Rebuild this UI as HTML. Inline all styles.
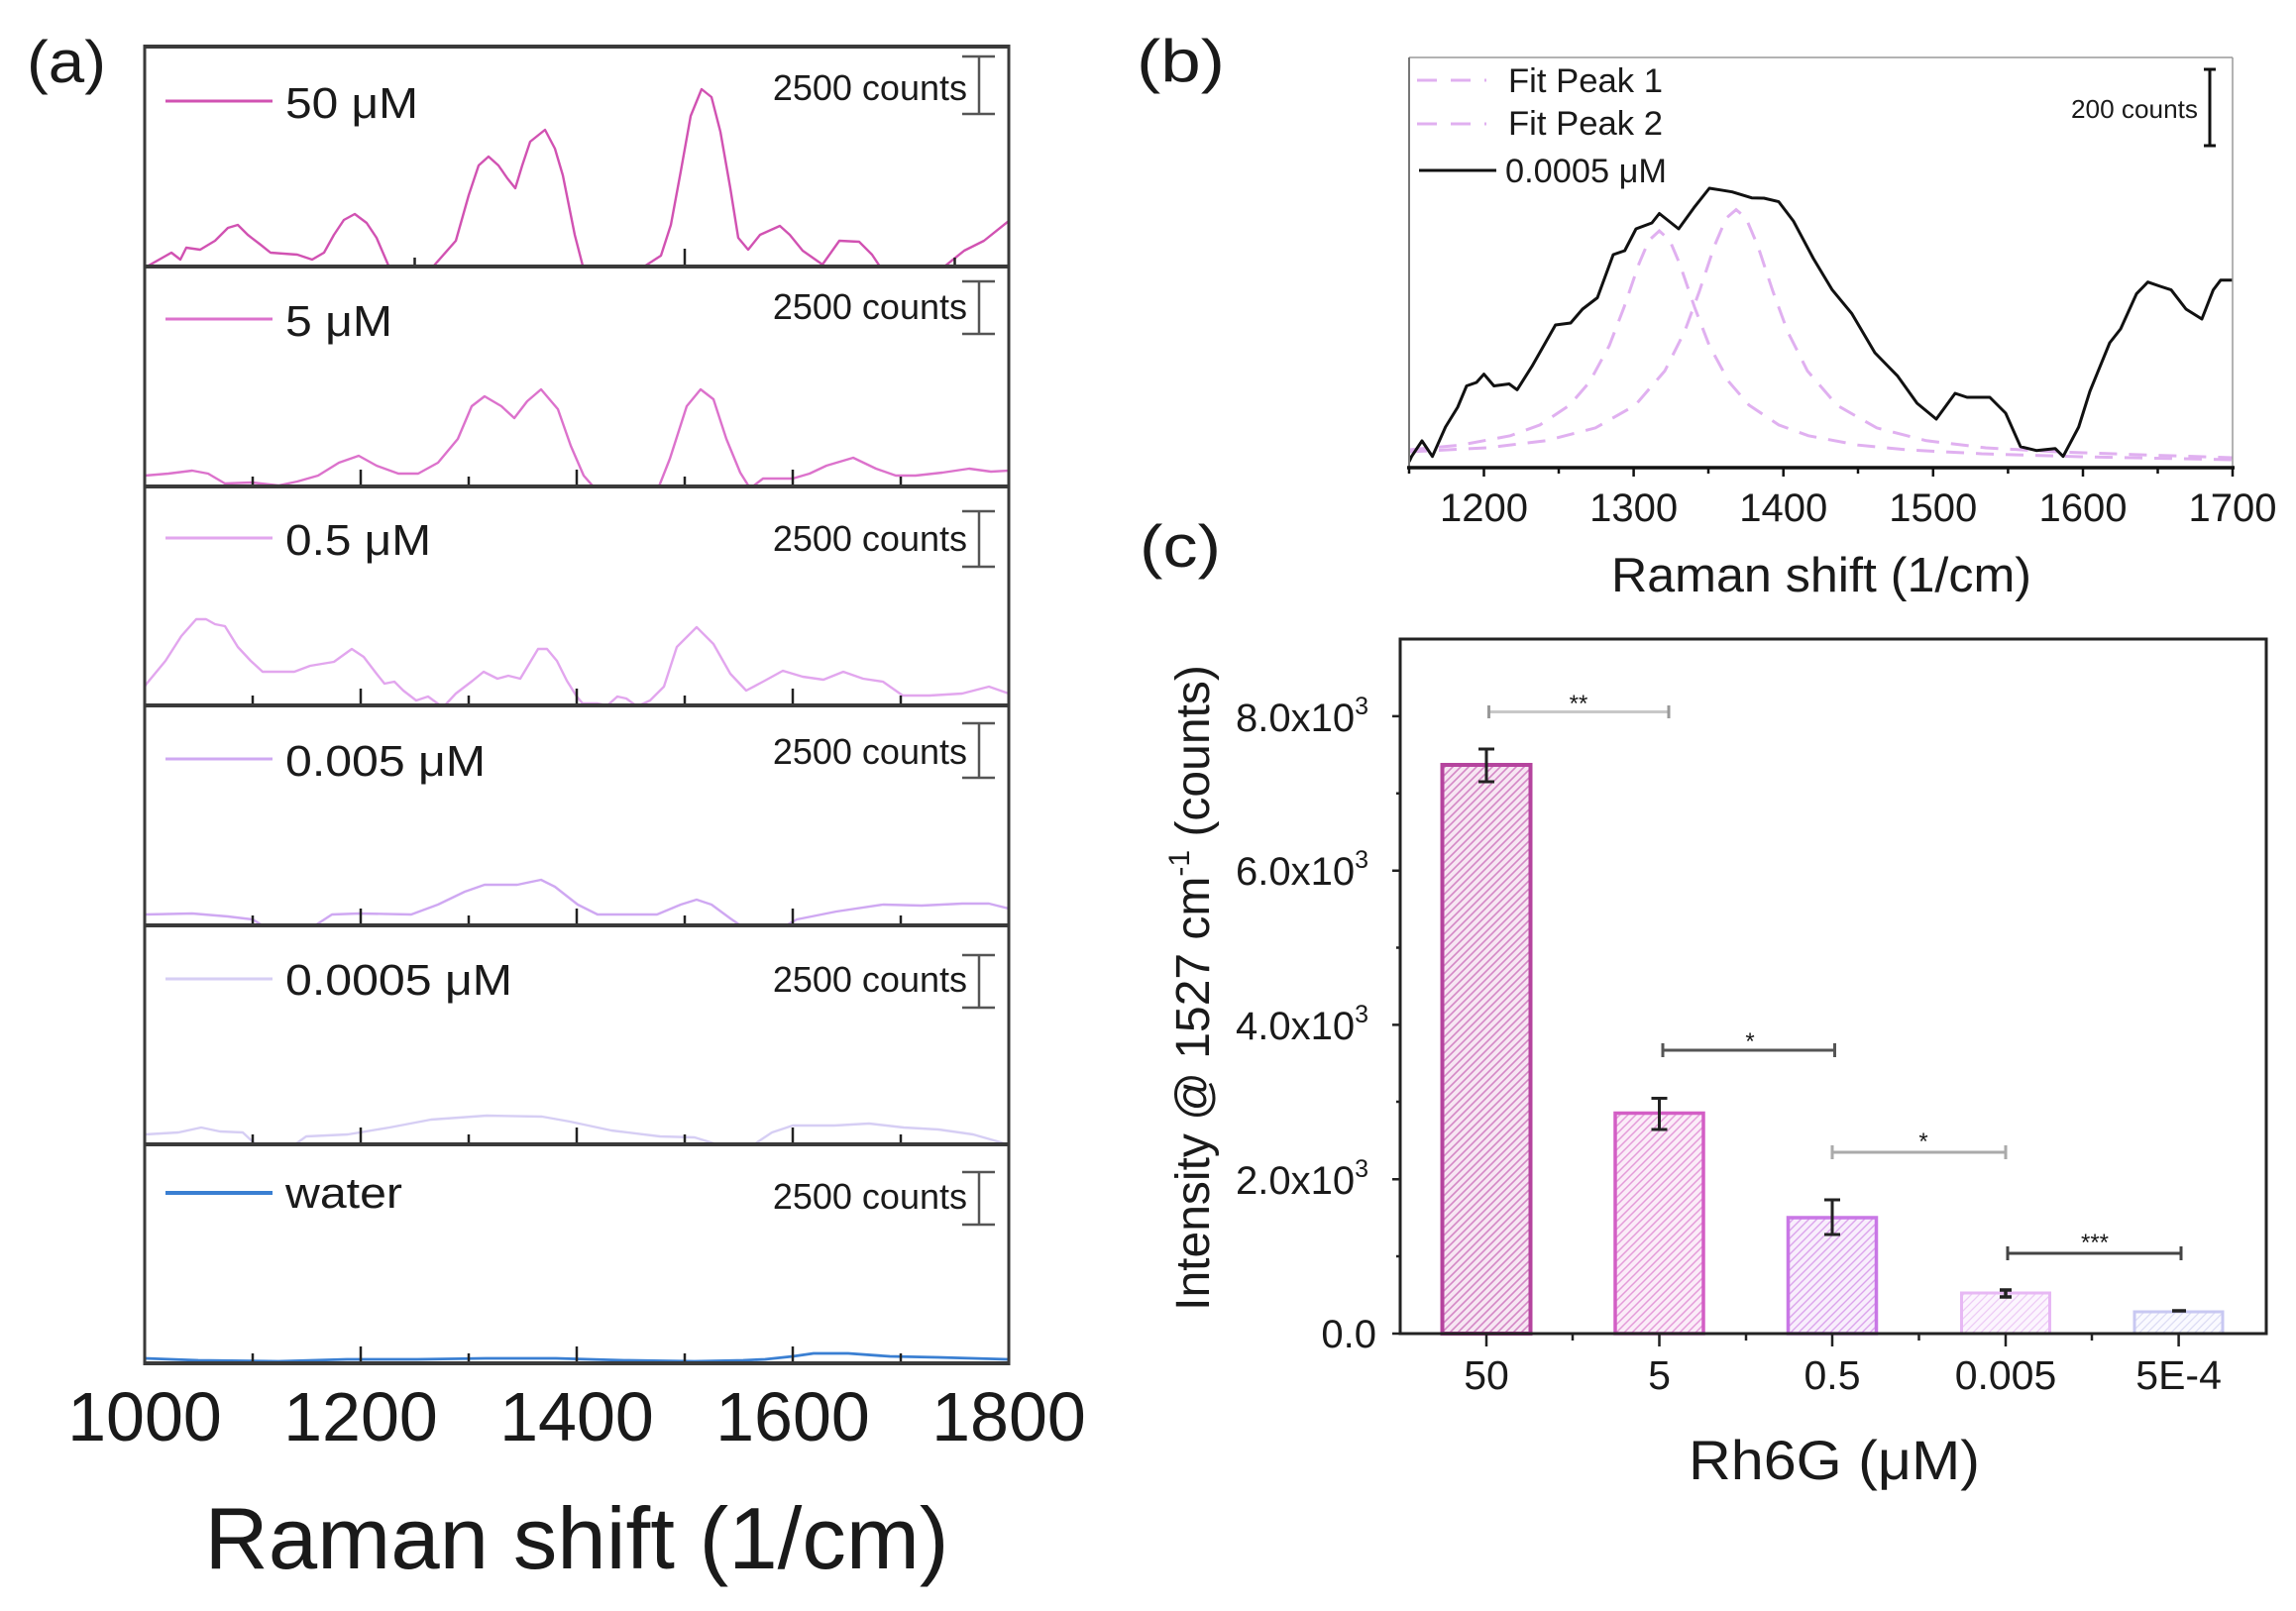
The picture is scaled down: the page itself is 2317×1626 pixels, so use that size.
<!DOCTYPE html>
<html><head><meta charset="utf-8"><style>
html,body{margin:0;padding:0;background:#fff;}
svg{display:block;}
text{font-family:"Liberation Sans",Arial,sans-serif;fill:#1a1a1a;}
</style></head><body>
<svg xmlns="http://www.w3.org/2000/svg" width="2317" height="1626" viewBox="0 0 2317 1626">
<defs>
<clipPath id="c1"><rect x="146" y="47" width="872" height="222"/></clipPath>
<clipPath id="c2"><rect x="146" y="269" width="872" height="222"/></clipPath>
<clipPath id="c3"><rect x="146" y="491" width="872" height="221"/></clipPath>
<clipPath id="c4"><rect x="146" y="712" width="872" height="222"/></clipPath>
<clipPath id="c5"><rect x="146" y="934" width="872" height="221"/></clipPath>
<clipPath id="c6"><rect x="146" y="1155" width="872" height="221"/></clipPath>
<clipPath id="cb"><rect x="1422" y="58" width="831" height="414"/></clipPath>
<pattern id="h1" patternUnits="userSpaceOnUse" width="8" height="8"><rect width="8" height="8" fill="#f7e6f3"/><path d="M-1,1 l2,-2 M0,8 l8,-8 M7,9 l2,-2" stroke="#d487c6" stroke-width="1.6"/></pattern>
<pattern id="h2" patternUnits="userSpaceOnUse" width="8" height="8"><rect width="8" height="8" fill="#fbecf8"/><path d="M-1,1 l2,-2 M0,8 l8,-8 M7,9 l2,-2" stroke="#e49bd9" stroke-width="1.5"/></pattern>
<pattern id="h3" patternUnits="userSpaceOnUse" width="8" height="8"><rect width="8" height="8" fill="#f8eefc"/><path d="M-1,1 l2,-2 M0,8 l8,-8 M7,9 l2,-2" stroke="#dba4ec" stroke-width="1.4"/></pattern>
<pattern id="h4" patternUnits="userSpaceOnUse" width="8" height="8"><rect width="8" height="8" fill="#fcf5fe"/><path d="M-1,1 l2,-2 M0,8 l8,-8 M7,9 l2,-2" stroke="#edcbf6" stroke-width="1.3"/></pattern>
<pattern id="h5" patternUnits="userSpaceOnUse" width="8" height="8"><rect width="8" height="8" fill="#fafaff"/><path d="M-1,1 l2,-2 M0,8 l8,-8 M7,9 l2,-2" stroke="#dcdcf4" stroke-width="1.3"/></pattern>
</defs>
<rect width="2317" height="1626" fill="#fff"/>

<!-- ================= PANEL (a) ================= -->
<text x="27" y="83" font-size="60" textLength="80" lengthAdjust="spacingAndGlyphs" fill="#333">(a)</text>

<g fill="none" stroke-width="2.4" stroke-linejoin="round">
<polyline clip-path="url(#c1)" stroke="#d152b2" points="146,270 150,268 173,255 182,262 188,250 202,252 217,243 230,230 240,227 250,237 263,247 273,255 300,257 315,262 327,255 337,237 347,222 358,216 370,225 380,240 392,268 400,280 430,280 438,268 460,243 473,197 483,167 493,158 503,167 512,180 520,190 527,167 535,143 550,131 560,150 568,177 580,237 588,268 595,280 640,280 650,269 667,258 677,227 687,173 697,117 708,90 718,98 727,133 737,190 745,240 755,252 767,237 787,228 797,237 810,253 830,267 847,243 867,244 880,257 888,269 895,280 945,280 953,269 973,253 993,243 1018,223"/>
<polyline clip-path="url(#c2)" stroke="#dc72cc" points="146,480 170,478 194,475 210,478 227,488 254,487 281,490 300,486 321,480 342,467 362,460 380,470 402,478 422,478 442,467 462,443 476,410 489,400 506,410 519,422 532,405 546,393 563,413 576,450 589,480 603,496 663,496 676,463 693,410 707,393 720,403 733,443 747,477 757,493 770,483 800,483 817,478 834,470 861,462 884,473 904,480 924,480 951,477 978,473 1000,476 1018,475"/>
<polyline clip-path="url(#c3)" stroke="#e2a6ee" points="146,693 148,690 167,667 183,642 198,625 208,625 217,630 227,632 240,653 253,667 265,678 297,678 313,672 337,668 355,655 367,663 380,680 388,690 398,688 407,697 420,707 432,703 447,714 460,700 477,687 488,678 502,685 513,682 525,685 543,655 552,655 562,667 572,687 582,703 588,710 603,710 613,712 623,703 632,705 643,713 656,707 670,693 683,653 703,633 720,650 737,680 753,697 770,688 790,677 810,683 831,686 851,678 871,685 891,688 911,702 938,702 971,700 998,693 1018,700"/>
<polyline clip-path="url(#c4)" stroke="#cfa8f2" points="146,923 194,922 230,925 255,928 268,936 315,936 335,923 362,922 415,923 442,913 469,900 489,893 522,893 546,888 560,895 583,913 603,923 663,923 687,913 703,908 718,913 737,927 750,936 790,936 804,928 844,920 891,913 930,914 971,912 998,912 1018,917"/>
<polyline clip-path="url(#c5)" stroke="#d6cef4" points="146,1145 180,1143 203,1138 222,1142 245,1143 260,1157 295,1157 309,1147 351,1145 393,1138 435,1130 491,1126 547,1127 575,1132 617,1141 666,1147 701,1148 730,1157 758,1157 779,1143 800,1136 842,1136 877,1134 912,1138 947,1140 982,1145 1010,1153 1018,1156"/>
<polyline clip-path="url(#c6)" stroke="#3a7fd2" stroke-width="2.8" points="146,1371 200,1373 281,1374 350,1372 421,1372 490,1371 561,1371 630,1373 701,1374 750,1373 772,1372 800,1369 821,1366 856,1366 898,1369 947,1370 1018,1372"/>
</g>

<!-- frame & separators -->
<g stroke="#3a3a3a" fill="none">
<line x1="146" y1="47" x2="1018" y2="47" stroke-width="4"/>
<line x1="146" y1="45" x2="146" y2="1378" stroke-width="3"/>
<line x1="1018" y1="45" x2="1018" y2="1378" stroke-width="3"/>
<line x1="146" y1="269" x2="1018" y2="269" stroke-width="4"/>
<line x1="146" y1="491" x2="1018" y2="491" stroke-width="4"/>
<line x1="146" y1="712" x2="1018" y2="712" stroke-width="4"/>
<line x1="146" y1="934" x2="1018" y2="934" stroke-width="4"/>
<line x1="146" y1="1155" x2="1018" y2="1155" stroke-width="4"/>
<line x1="146" y1="1376" x2="1018" y2="1376" stroke-width="4"/>
</g>
<!-- ticks -->
<g stroke="#222" stroke-width="2.5">
<line x1="418.5" y1="267" x2="418.5" y2="260"/><line x1="691" y1="267" x2="691" y2="251"/><line x1="963.5" y1="267" x2="963.5" y2="260"/>
<path d="M255,489v-8 M364,489v-15 M473,489v-8 M582,489v-15 M691,489v-8 M800,489v-15 M909,489v-8"/>
<path d="M255,710v-8 M364,710v-15 M473,710v-8 M582,710v-15 M691,710v-8 M800,710v-15 M909,710v-8"/>
<path d="M255,932v-8 M364,932v-15 M473,932v-8 M582,932v-15 M691,932v-8 M800,932v-15 M909,932v-8"/>
<path d="M255,1153v-8 M364,1153v-15 M473,1153v-8 M582,1153v-15 M691,1153v-8 M800,1153v-15 M909,1153v-8"/>
<path d="M255,1374v-8 M364,1374v-15 M473,1374v-8 M582,1374v-15 M691,1374v-8 M800,1374v-15 M909,1374v-8"/>
</g>

<!-- legends -->
<g stroke-width="3">
<line x1="167" y1="102" x2="275" y2="102" stroke="#d152b2"/>
<line x1="167" y1="322" x2="275" y2="322" stroke="#dc72cc"/>
<line x1="167" y1="543" x2="275" y2="543" stroke="#e2a6ee"/>
<line x1="167" y1="766" x2="275" y2="766" stroke="#cfa8f2"/>
<line x1="167" y1="988" x2="275" y2="988" stroke="#d6cef4"/>
<line x1="167" y1="1204" x2="275" y2="1204" stroke="#3a7fd2" stroke-width="4"/>
</g>
<g font-size="44">
<text x="288" y="119" textLength="134" lengthAdjust="spacingAndGlyphs">50 μM</text>
<text x="288" y="339" textLength="108" lengthAdjust="spacingAndGlyphs">5 μM</text>
<text x="288" y="560" textLength="147" lengthAdjust="spacingAndGlyphs">0.5 μM</text>
<text x="288" y="783" textLength="202" lengthAdjust="spacingAndGlyphs">0.005 μM</text>
<text x="288" y="1004" textLength="229" lengthAdjust="spacingAndGlyphs">0.0005 μM</text>
<text x="288" y="1219" textLength="118" lengthAdjust="spacingAndGlyphs">water</text>
</g>
<!-- scale bars -->
<g font-size="36" text-anchor="end">
<text x="976" y="101">2500 counts</text>
<text x="976" y="322">2500 counts</text>
<text x="976" y="556">2500 counts</text>
<text x="976" y="771">2500 counts</text>
<text x="976" y="1001">2500 counts</text>
<text x="976" y="1220">2500 counts</text>
</g>
<g stroke="#555" stroke-width="2.5" fill="none">
<path d="M971,57h33 M988,57v58 M971,115h33"/>
<path d="M971,284h33 M988,284v53 M971,337h33"/>
<path d="M971,516h33 M988,516v56 M971,572h33"/>
<path d="M971,730h33 M988,730v55 M971,785h33"/>
<path d="M971,964h33 M988,964v53 M971,1017h33"/>
<path d="M971,1183h33 M988,1183v53 M971,1236h33"/>
</g>
<!-- x ticks labels -->
<g font-size="70" text-anchor="middle">
<text x="146" y="1454">1000</text>
<text x="364" y="1454">1200</text>
<text x="582" y="1454">1400</text>
<text x="800" y="1454">1600</text>
<text x="1018" y="1454">1800</text>
</g>
<text x="582" y="1583" font-size="88" text-anchor="middle" textLength="751" lengthAdjust="spacingAndGlyphs">Raman shift (1/cm)</text>

<!-- ================= PANEL (b) ================= -->
<text x="1147" y="82" font-size="60" textLength="89" lengthAdjust="spacingAndGlyphs" fill="#333">(b)</text>
<g fill="none" clip-path="url(#cb)">
<polyline stroke="#e0b0f0" stroke-width="3" stroke-dasharray="18 12" points="1422,454 1474,449.2 1524,439.8 1554,428.9 1584,408.9 1604,385.7 1624,348.9 1639,309.9 1654,266.1 1664,242.6 1674.5,233 1685,242.6 1695,266.1 1710,309.9 1725,348.9 1745,385.7 1765,408.9 1795,428.9 1825,439.8 1875,449.2 1925,454 2000,458 2100,461 2253,464"/>
<polyline stroke="#e0b0f0" stroke-width="3" stroke-dasharray="18 12" points="1422,456 1500,452 1560,444.8 1610,431.9 1650,409.2 1680,374.4 1700,334.7 1715,293.8 1730,248.5 1742,220.2 1752,211.6 1762,220.2 1774,248.5 1789,293.8 1804,334.7 1824,374.4 1854,409.2 1894,431.9 1944,444.8 2004,452 2080,456.2 2160,459 2253,462"/>
<polyline stroke="#111" stroke-width="3" stroke-linejoin="round" points="1422,466 1424.5,460.7 1435,445 1445.5,460.7 1458.7,431 1471,411 1480,389.5 1490,386 1497.5,377.6 1507.6,389.5 1523,387.5 1531,393.4 1546,369.7 1569.7,328 1585,326 1597,312 1612,300.5 1628,257 1639.6,253 1651,231 1667,225 1674.5,215.5 1694,231 1709.5,209.6 1725,190 1736.6,191.8 1748,193.7 1767.7,199.7 1780,200 1795,203.6 1810,223.4 1830,261 1849,292.6 1868.6,316.3 1892,356 1915,379.6 1934.6,407 1954,423 1973,397 1985,401 2008,401 2024,417 2039,450.8 2055,454.7 2074,452.7 2082,460.7 2097.7,431 2109,395 2129,346 2140,332 2156,296.6 2167.5,284.7 2180,289 2191,292.6 2206,312 2222,322 2233.5,292.6 2241,282.7 2253,282.7"/>
</g>
<g fill="none">
<line x1="1422" y1="58" x2="2253" y2="58" stroke="#9a9a9a" stroke-width="1.5"/>
<line x1="1422" y1="58" x2="1422" y2="472" stroke="#777" stroke-width="2"/>
<line x1="2253" y1="58" x2="2253" y2="472" stroke="#9a9a9a" stroke-width="1.5"/>
<line x1="1420" y1="472" x2="2255" y2="472" stroke="#111" stroke-width="3.5"/>
<path stroke="#111" stroke-width="2.5" d="M1497.5,472v9 M1648.6,472v9 M1799.7,472v9 M1950.8,472v9 M2102,472v9 M2253,472v9 M1422,472v6 M1573,472v6 M1724,472v6 M1875,472v6 M2026.4,472v6 M2177.5,472v6"/>
</g>
<g font-size="40" text-anchor="middle">
<text x="1497.5" y="526">1200</text>
<text x="1648.6" y="526">1300</text>
<text x="1799.7" y="526">1400</text>
<text x="1950.8" y="526">1500</text>
<text x="2102" y="526">1600</text>
<text x="2253" y="526">1700</text>
</g>
<text x="1838" y="597" font-size="49" text-anchor="middle" textLength="424" lengthAdjust="spacingAndGlyphs">Raman shift (1/cm)</text>
<!-- legend b -->
<line x1="1430" y1="81" x2="1500" y2="81" stroke="#e0b0f0" stroke-width="3" stroke-dasharray="20 14"/>
<line x1="1430" y1="125" x2="1500" y2="125" stroke="#e0b0f0" stroke-width="3" stroke-dasharray="20 14"/>
<line x1="1432" y1="172" x2="1510" y2="172" stroke="#111" stroke-width="3"/>
<g font-size="34">
<text x="1522" y="93" textLength="156" lengthAdjust="spacingAndGlyphs">Fit Peak 1</text>
<text x="1522" y="136" textLength="156" lengthAdjust="spacingAndGlyphs">Fit Peak 2</text>
<text x="1519" y="184" textLength="163" lengthAdjust="spacingAndGlyphs">0.0005 μM</text>
</g>
<text x="2218" y="119" font-size="26" text-anchor="end" textLength="128" lengthAdjust="spacingAndGlyphs">200 counts</text>
<path d="M2224,70h12 M2230,70v77 M2224,147h12" stroke="#111" stroke-width="3" fill="none"/>

<!-- ================= PANEL (c) ================= -->
<text x="1150" y="572" font-size="60" textLength="82" lengthAdjust="spacingAndGlyphs" fill="#333">(c)</text>
<!-- bars -->
<rect x="1455.5" y="772" width="89" height="574" fill="url(#h1)" stroke="#b5449e" stroke-width="4"/>
<rect x="1630" y="1123.5" width="89" height="222.5" fill="url(#h2)" stroke="#d35ec5" stroke-width="3.5"/>
<rect x="1804.5" y="1229" width="89" height="117" fill="url(#h3)" stroke="#c977e6" stroke-width="3.5"/>
<rect x="1979.5" y="1305" width="89" height="41" fill="url(#h4)" stroke="#e7b8f4" stroke-width="3"/>
<rect x="2154" y="1324" width="89" height="22" fill="url(#h5)" stroke="#c8c8f2" stroke-width="3"/>
<!-- error bars -->
<g stroke="#222" stroke-width="3" fill="none">
<path d="M1500,756v33 M1492,756h16 M1492,789h16"/>
<path d="M1674.5,1108.5v31.5 M1666.5,1108.5h16 M1666.5,1140h16"/>
<path d="M1849,1211v35 M1841,1211h16 M1841,1246h16"/>
<path d="M2018,1302h12 M2018,1309h12 M2024,1302v7" stroke-width="3.5"/>
<path d="M2192,1323h14" stroke-width="3.5"/>
</g>
<!-- frame -->
<rect x="1413" y="645" width="874" height="701" fill="none" stroke="#222" stroke-width="3"/>
<g stroke="#222" stroke-width="2.5">
<path d="M1500,1346v13 M1674.5,1346v13 M1849,1346v13 M2024,1346v13 M2198.6,1346v13 M1587,1346v7 M1762,1346v7 M1936.5,1346v7 M2111,1346v7"/>
<path d="M1413,1346h-8 M1413,1190.2h-8 M1413,1034.4h-8 M1413,878.7h-8 M1413,722.9h-8 M1413,1268h-4 M1413,1112h-4 M1413,956.5h-4 M1413,800.8h-4"/>
</g>
<!-- y tick labels -->
<g font-size="40" text-anchor="end">
<text x="1389" y="1360">0.0</text>
<text x="1381" y="1205">2.0x10<tspan font-size="25" dy="-17">3</tspan></text>
<text x="1381" y="1049">4.0x10<tspan font-size="25" dy="-17">3</tspan></text>
<text x="1381" y="893">6.0x10<tspan font-size="25" dy="-17">3</tspan></text>
<text x="1381" y="738">8.0x10<tspan font-size="25" dy="-17">3</tspan></text>
</g>
<g font-size="41" text-anchor="middle">
<text x="1500" y="1402">50</text>
<text x="1674.5" y="1402">5</text>
<text x="1849" y="1402">0.5</text>
<text x="2024" y="1402">0.005</text>
<text x="2198.6" y="1402">5E-4</text>
</g>
<text x="1851" y="1493" font-size="56" text-anchor="middle" textLength="294" lengthAdjust="spacingAndGlyphs">Rh6G (μM)</text>
<text transform="translate(1220,997) rotate(-90)" font-size="48" text-anchor="middle">Intensity @ 1527 cm<tspan font-size="30" dy="-20">-1</tspan><tspan dy="20"> (counts)</tspan></text>
<!-- significance brackets -->
<g fill="none" stroke-width="3">
<path d="M1502.5,718.5H1684" stroke="#c8c8c8"/>
<path d="M1502.5,712v13 M1684,712v13" stroke="#999"/>
<path d="M1678,1060H1851.5 M1678,1053v14 M1851.5,1053v14" stroke="#555"/>
<path d="M1849,1163H2024 M1849,1156v14 M2024,1156v14" stroke="#aaa"/>
<path d="M2026,1265H2201 M2026,1258v14 M2201,1258v14" stroke="#444"/>
</g>
<g font-size="24" text-anchor="middle" fill="#222">
<text x="1593" y="718">**</text>
<text x="1766" y="1059">*</text>
<text x="1941" y="1160">*</text>
<text x="2114" y="1262">***</text>
</g>
</svg>
</body></html>
